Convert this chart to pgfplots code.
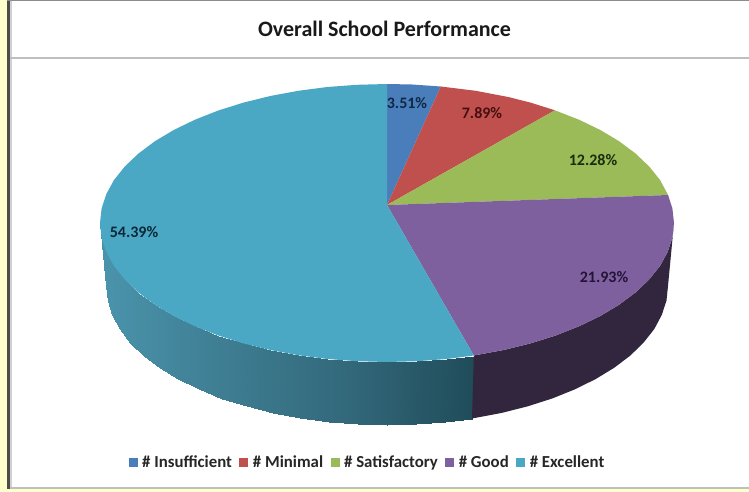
\documentclass[border=0pt]{standalone}
\usepackage{fontspec}
\setmainfont{Carlito}
\usepackage{pgfplots}
\pgfplotsset{compat=1.18}
\definecolor{cBlue}{HTML}{4A7EBB}
\definecolor{cRed}{HTML}{C0504D}
\definecolor{cGreen}{HTML}{9BBB59}
\definecolor{cPurple}{HTML}{7F609F}
\definecolor{cTeal}{HTML}{4AA8C4}
\definecolor{cPurpleSide}{HTML}{32263F}
\definecolor{cPaper}{HTML}{FFFFCC}
\begin{document}
\begin{tikzpicture}[x=1pt,y=1pt]
\begin{axis}[
  scale only axis, width=749pt, height=492pt,
  xmin=0, xmax=749, ymin=0, ymax=492, y dir=reverse,
  hide axis, clip=false,
  colormap={sideTeal}{rgb255(0cm)=(74,148,172); rgb255(1cm)=(62,125,146); rgb255(2cm)=(50,104,122); rgb255(3cm)=(32,76,90)},
  legend columns=-1,
  legend style={draw=none, fill=none, at={(axis cs:367.5,462)}, anchor=center,
    font=\fontsize{16.8}{18}\selectfont\bfseries, text=black!85,
    /tikz/every odd column/.append style={column sep=2.5pt},
    /tikz/every even column/.append style={column sep=5.5pt},
    inner sep=0pt, outer sep=0pt},
  legend cell align=left,
  legend image code/.code={\fill[#1] (0pt,-4.5pt) rectangle (9pt,4.5pt);},
]
% frame
\fill[white] (axis cs:10,1) rectangle (axis cs:749,487);
\fill[cPaper] (axis cs:0,0) rectangle (axis cs:7,492);
\fill[cPaper] (axis cs:0,489) rectangle (axis cs:749,492);
\fill[black!70] (axis cs:7,0) rectangle (axis cs:10,489);
\fill[black!18] (axis cs:10,0) rectangle (axis cs:12,487);
\fill[black!45] (axis cs:7,0) rectangle (axis cs:749,1.5);
\fill[black!25] (axis cs:10,486.5) rectangle (axis cs:749,489);
\fill[black!25] (axis cs:10,57) rectangle (axis cs:749,59);

% side of Excellent (gradient by x)
\addplot[forget plot, patch, patch type=rectangle, shader=interp, point meta=x] coordinates {
(100,223)(101.6,237.5)(107.5,300.5)(106,286)
(101.6,237.5)(106.3,251.9)(112.2,314.9)(107.5,300.5)
(106.3,251.9)(114,266)(119.8,329)(112.2,314.9)
(114,266)(124.8,279.5)(130.3,342.5)(119.8,329)
(124.8,279.5)(138.5,292.5)(143.6,355.5)(130.3,342.5)
(138.5,292.5)(154.8,304.7)(159.7,367.7)(143.6,355.5)
(154.8,304.7)(173.7,316)(178.2,379)(159.7,367.7)
(173.7,316)(195,326.3)(199,389.3)(178.2,379)
(195,326.3)(218.3,335.5)(221.8,398.5)(199,389.3)
(218.3,335.5)(243.5,343.4)(246.5,406.4)(221.8,398.5)
(243.5,343.4)(270.3,350)(272.7,413)(246.5,406.4)
(270.3,350)(298.3,355.2)(300.2,418.2)(272.7,413)
(298.3,355.2)(327.3,359)(328.6,422)(300.2,418.2)
(327.3,359)(357,361.2)(357.6,424.2)(328.6,422)
(357,361.2)(387,362)(387,425)(357.6,424.2)
(387,362)(417,361.2)(416.4,424.2)(387,425)
(417,361.2)(446.7,359)(445.4,422)(416.4,424.2)
(446.7,359)(473.8,355.5)(472,418.5)(445.4,422)
};

% side of Good
\addplot[forget plot, fill=cPurpleSide, draw=none] coordinates {
(674,223)(672.4,237.5)(667.7,251.9)(660,266)(649.2,279.5)(635.5,292.5)(619.2,304.7)
(600.3,316)(579,326.3)(555.7,335.5)(530.5,343.4)(503.7,350)(473.8,355.5)
(472,418.5)(501.3,413)(527.5,406.4)(552.2,398.5)(575,389.3)(595.8,379)(614.3,367.7)
(630.4,355.5)(643.7,342.5)(654.3,329)(661.8,314.9)(666.5,300.5)(668,286)(674,223)};

% top slices
\addplot[fill=cBlue, draw=none] coordinates {
(387,205)(387,84)(412,84.5)(440.8,86.5)(387,205)};
\addlegendentry{\# Insufficient}
\addplot[fill=cRed, draw=none] coordinates {
(387,205)(440.8,86.5)(475.7,90.8)(508.3,97)(530.5,102.6)(554.9,110.3)(387,205)};
\addlegendentry{\# Minimal}
\addplot[fill=cGreen, draw=none] coordinates {
(387,205)(554.9,110.3)(579,119.7)(600.3,130)(619.2,141.3)(635.5,153.5)(649.2,166.5)(660,180)(668.1,195)(387,205)};
\addlegendentry{\# Satisfactory}
\addplot[fill=cPurple, draw=none] coordinates {
(387,205)(668.1,195)(672.4,208.5)(674,223)(672.4,237.5)(667.7,251.9)(660,266)(649.2,279.5)(635.5,292.5)(619.2,304.7)(600.3,316)(579,326.3)(555.7,335.5)(530.5,343.4)(503.7,350)(473.8,355.5)(387,205)};
\addlegendentry{\# Good}
\addplot[fill=cTeal, draw=none] coordinates {
(387,205)(473.8,355.5)(446.7,359)(417,361.2)(387,362)(357,361.2)(327.3,359)(298.3,355.2)(270.3,350)(243.5,343.4)(218.3,335.5)(195,326.3)(173.7,316)(154.8,304.7)(138.5,292.5)(124.8,279.5)(114,266)(106.3,251.9)(101.6,237.5)(100,223)(101.6,208.5)(106.3,194.1)(114,180)(124.8,166.5)(138.5,153.5)(154.8,141.3)(173.7,130)(195,119.7)(218.3,110.5)(243.5,102.6)(270.3,96)(298.3,90.8)(327.3,87)(357,84.8)(387,84)(387,205)};
\addlegendentry{\# Excellent}

% title and data labels
\node[font=\fontsize{22}{24}\selectfont\bfseries, text=black!90] at (axis cs:384.5,29) {Overall School Performance};
\node[font=\fontsize{16}{18}\selectfont\bfseries, text={rgb,255:red,15;green,40;blue,70}] at (axis cs:407,103) {3.51\%};
\node[font=\fontsize{16}{18}\selectfont\bfseries, text={rgb,255:red,70;green,15;blue,15}] at (axis cs:482,113) {7.89\%};
\node[font=\fontsize{16}{18}\selectfont\bfseries, text={rgb,255:red,25;green,45;blue,10}] at (axis cs:593,160) {12.28\%};
\node[font=\fontsize{16}{18}\selectfont\bfseries, text={rgb,255:red,35;green,20;blue,55}] at (axis cs:604,277) {21.93\%};
\node[font=\fontsize{16}{18}\selectfont\bfseries, text={rgb,255:red,10;green,40;blue,55}] at (axis cs:134,232) {54.39\%};
\end{axis}
\end{tikzpicture}
\end{document}
